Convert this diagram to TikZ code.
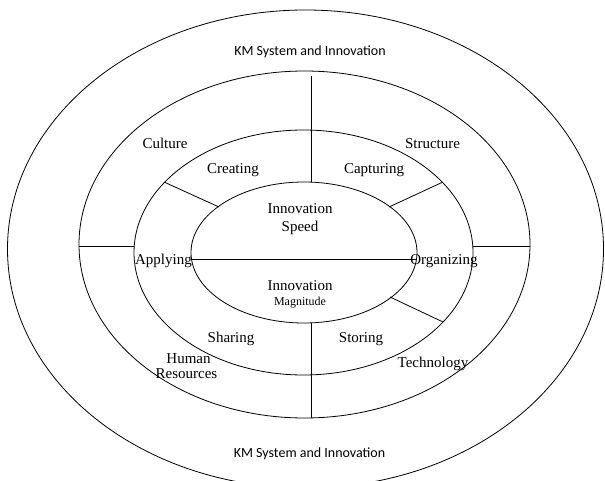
\documentclass[tikz,border=0pt]{standalone}
\usepackage{fontspec}
\setmainfont{Liberation Serif}
\newfontfamily\kmfont{Carlito}
\usetikzlibrary{shapes.geometric}
\begin{document}
\begin{tikzpicture}[x=1pt,y=-1pt,line width=0.8pt,
  ring/.style={draw,ellipse,inner sep=0pt},
  lbl/.style={font=\fontsize{15}{17}\selectfont,inner sep=0pt,anchor=base},
  small/.style={font=\fontsize{12}{14}\selectfont,inner sep=0pt,anchor=base},
  km/.style={font=\kmfont\fontsize{14}{16}\selectfont,inner sep=0pt,anchor=base},
  link/.style={draw,line width=0.8pt}]
\useasboundingbox (0,0) rectangle (605,481);
% rings
\node[ring,minimum width=596pt,minimum height=478pt] (outer) at (305.5,249) {};
\node[ring,minimum width=451pt,minimum height=347pt] (third) at (304.5,244.5) {};
\node[ring,minimum width=339pt,minimum height=245pt] (middle) at (303.5,252.5) {};
\node[ring,minimum width=226pt,minimum height=141pt] (inner) at (304,252.5) {};
% connector end points
\coordinate (vt1) at (311,76);
\coordinate (vt2) at (311,182);
\coordinate (vb1) at (311,323);
\coordinate (vb2) at (311,418);
\coordinate (hl) at (191,259);
\coordinate (hr) at (417,259);
\coordinate (sl1) at (79,246);
\coordinate (sl2) at (134,246);
\coordinate (sr1) at (473,246);
\coordinate (sr2) at (530,246);
\coordinate (ul1) at (219,207);
\coordinate (ul2) at (164,182);
\coordinate (ur1) at (389,207);
\coordinate (ur2) at (443,182);
\coordinate (lr1) at (390,297);
\coordinate (lr2) at (443,322);
% connectors
\draw[link] (vt1) -- (vt2);
\draw[link] (vb1) -- (vb2);
\draw[link] (hl) -- (hr);
\draw[link] (sl1) -- (sl2);
\draw[link] (sr1) -- (sr2);
\draw[link] (ul1) -- (ul2);
\draw[link] (ur1) -- (ur2);
\draw[link] (lr1) -- (lr2);
% labels
\node[km] (kmtop) at (310,56) {KM System and Innovation};
\node[km] (kmbot) at (309.5,457) {KM System and Innovation};
\node[lbl] (culture) at (165,149) {Culture};
\node[lbl] (structure) at (432.5,149) {Structure};
\node[lbl] (creating) at (233,174) {Creating};
\node[lbl] (capturing) at (374,174) {Capturing};
\node[lbl] (innov1) at (300,214) {Innovation};
\node[lbl] (speed) at (300,232) {Speed};
\node[lbl] (applying) at (163.5,264) {Applying};
\node[lbl] (organizing) at (444,264) {Organizing};
\node[lbl] (innov2) at (300,290) {Innovation};
\node[small] (magnitude) at (300,305) {Magnitude};
\node[lbl] (sharing) at (231,342) {Sharing};
\node[lbl] (storing) at (361,342) {Storing};
\node[lbl] (human) at (188.5,363) {Human};
\node[lbl] (resources) at (186.5,378) {Resources};
\node[lbl] (technology) at (433,367) {Technology};
\end{tikzpicture}
\end{document}
